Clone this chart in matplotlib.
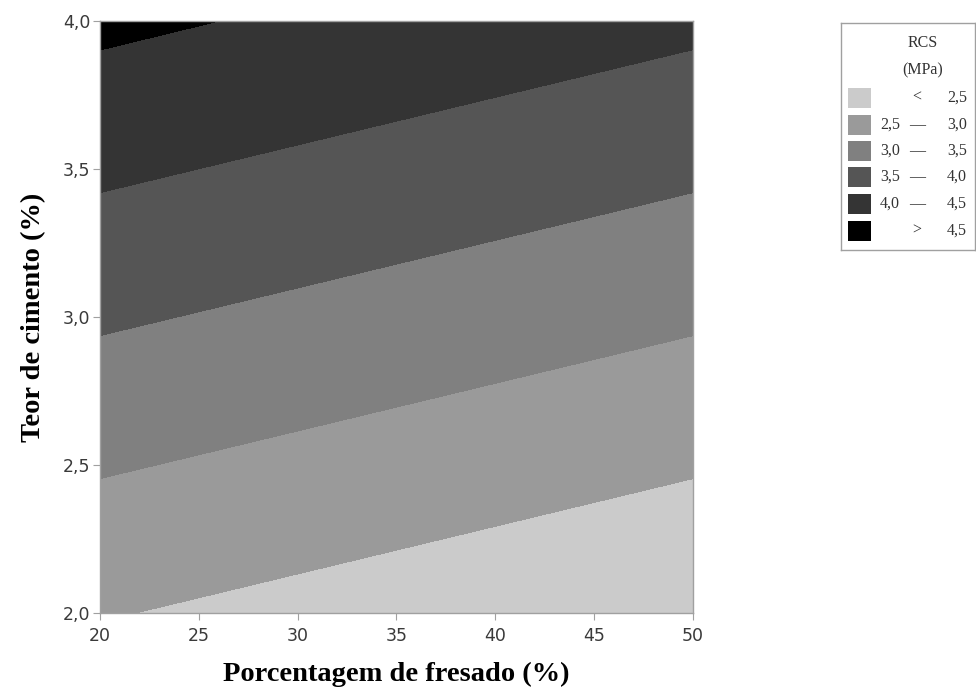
import matplotlib
matplotlib.use("Agg")
import matplotlib.pyplot as plt
from matplotlib.patches import Rectangle

# RCS (MPa) read at the corners of the plotted region
fresado = [20, 50]
cimento = [2.0, 4.0]
rcs = [[2.53, 2.03],
       [4.60, 4.10]]

levels = [0, 2.5, 3.0, 3.5, 4.0, 4.5, 10]
colors = ['#cbcbcb', '#9a9a9a', '#808080', '#555555', '#343434', '#000000']
xticks = [20, 25, 30, 35, 40, 45, 50]
yticks = [2.0, 2.5, 3.0, 3.5, 4.0]

def fmt(v):
    return f"{v:.1f}".replace(".", ",")

fig = plt.figure(figsize=(9.76, 6.94), dpi=100)
W, H = 976, 694

# main plot, placed in pixel terms
ax = fig.add_axes([100 / W, 1 - 613 / H, (693 - 100) / W, (613 - 21) / H])
ax.contourf(fresado, cimento, rcs, levels=levels, colors=colors)
ax.set_xlim(20, 50)
ax.set_ylim(2.0, 4.0)
ax.set_xticks(xticks)
ax.set_xticklabels([str(t) for t in xticks])
ax.set_yticks(yticks)
ax.set_yticklabels([fmt(t) for t in yticks])
for s in ax.spines.values():
    s.set_color('#a0a0a0')
    s.set_linewidth(1.0)
ax.tick_params(direction='out', length=5, width=0.8, color='#a0a0a0',
               labelcolor='#3a3a3a', labelsize=12.5)
ax.tick_params(axis='x', pad=5)
ax.tick_params(axis='y', pad=2)
for lab in ax.get_xticklabels() + ax.get_yticklabels():
    lab.set_family('DejaVu Sans')

ax.set_xlabel('Porcentagem de fresado (%)', family='Liberation Serif',
              fontweight='bold', fontsize=20.5, labelpad=12)
ax.set_ylabel('Teor de cimento (%)', family='Liberation Serif',
              fontweight='bold', fontsize=20.5, labelpad=12)

# legend box drawn by hand, coordinates in pixels
lg = fig.add_axes([841 / W, 1 - 250 / H, (975 - 841) / W, (250 - 23) / H])
lg.set_xlim(841, 975)
lg.set_ylim(250, 23)
lg.set_xticks([])
lg.set_yticks([])
for s in lg.spines.values():
    s.set_color('#a0a0a0')
    s.set_linewidth(1.0)

tfont = dict(family='Liberation Serif', fontsize=11.5, color='#333333')
lg.text(923, 43, 'RCS', ha='center', va='center', **tfont)
lg.text(923, 70, '(MPa)', ha='center', va='center', **tfont)

row_y = [98, 125, 151, 177, 204, 231]
bounds = levels[1:-1]
for i, c in enumerate(colors):
    y = row_y[i]
    lg.add_patch(Rectangle((848, y - 10), 23, 20, facecolor=c, edgecolor='none'))
    if i == 0:
        lg.text(917, y, '<', ha='center', va='center', **tfont)
        lg.text(967, y, fmt(bounds[0]), ha='right', va='center', **tfont)
    elif i == len(colors) - 1:
        lg.text(917, y, '>', ha='center', va='center', **tfont)
        lg.text(967, y, fmt(bounds[-1]), ha='right', va='center', **tfont)
    else:
        lg.text(900, y, fmt(bounds[i - 1]), ha='right', va='center', **tfont)
        lg.text(917, y, '—', ha='center', va='center', **tfont)
        lg.text(967, y, fmt(bounds[i]), ha='right', va='center', **tfont)

fig.savefig('out.png', dpi=100)
